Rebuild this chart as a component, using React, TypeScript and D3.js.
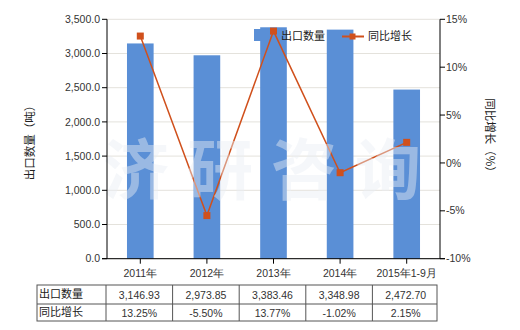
import React from "react";
import * as d3 from "d3";

const categories = ["2011年", "2012年", "2013年", "2014年", "2015年1-9月"];
const exportQty = [3146.93, 2973.85, 3383.46, 3348.98, 2472.7];
const growth = [13.25, -5.5, 13.77, -1.02, 2.15];
const qtyLabels = ["3,146.93", "2,973.85", "3,383.46", "3,348.98", "2,472.70"];
const growthLabels = ["13.25%", "-5.50%", "13.77%", "-1.02%", "2.15%"];
const leftTicks = [0, 500, 1000, 1500, 2000, 2500, 3000, 3500];
const rightTicks = [-10, -5, 0, 5, 10, 15];
const watermark = ["济", "研", "咨", "询"];

const W = 520, H = 330;
const L = 107, R = 440, T = 19.3, B = 258.7;
const BAR = "#5A8FD6";
const LINE = "#D0501C";
const NUM_FONT = "'Liberation Sans', Arial, sans-serif";
const CJK_FONT = "'Noto Sans CJK SC', sans-serif";

export default function App() {
  const x = d3.scaleBand<string>().domain(categories).range([L, R]).paddingInner(0.6).paddingOuter(0.3);
  const yL = d3.scaleLinear().domain([0, 3500]).range([B, T]);
  const yR = d3.scaleLinear().domain([-10, 15]).range([B, T]);
  const cx = (c: string) => (x(c) as number) + x.bandwidth() / 2;
  const line = d3.line<number>().x((_, i) => cx(categories[i])).y((d) => yR(d));
  const fmtL = d3.format(",.1f");
  const step = x.step();
  const colEdges = categories.map((c) => cx(c) - step / 2 - 1);
  const tableLeft = 37, tableRight = 437;
  const rowTop = 285, rowMid = 304, rowBot = 321;

  return (
    <svg width={W} height={H} style={{ position: "absolute", left: 0, top: 0, background: "#fff" }}>
      {/* gridlines */}
      {leftTicks.map((t) => (
        <line key={"g" + t} x1={L} x2={R} y1={yL(t)} y2={yL(t)} stroke="#E4E2DC" strokeWidth={1} />
      ))}
      {/* bars */}
      {categories.map((c, i) => (
        <rect key={"b" + c} x={x(c)} y={yL(exportQty[i])} width={x.bandwidth()} height={B - yL(exportQty[i])} fill={BAR} />
      ))}
      {/* line */}
      <path d={line(growth) || ""} fill="none" stroke={LINE} strokeWidth={1.5} />
      {growth.map((g, i) => (
        <rect key={"m" + i} x={cx(categories[i]) - 3.5} y={yR(g) - 3.5} width={7} height={7} fill={LINE} />
      ))}
      {/* watermark */}
      {watermark.map((ch, i) => (
        <text key={"w" + i} x={136 + i * 84} y={194} textAnchor="middle" fontSize={66} fontWeight="bold"
          fontFamily={CJK_FONT} fill="#E8EDF3" fillOpacity={0.45}>{ch}</text>
      ))}
      {/* axes */}
      <line x1={L} x2={L} y1={T} y2={B} stroke="#000" />
      <line x1={R} x2={R} y1={T} y2={B} stroke="#000" />
      <line x1={L - 5} x2={R + 5} y1={B} y2={B} stroke="#000" />
      {leftTicks.map((t) => (
        <g key={"lt" + t}>
          <line x1={L - 5} x2={L} y1={yL(t)} y2={yL(t)} stroke="#000" />
          <text x={L - 7} y={yL(t)} dy="0.35em" textAnchor="end" fontSize={10.5} fontFamily={NUM_FONT} fill="#333">{fmtL(t)}</text>
        </g>
      ))}
      {rightTicks.map((t) => (
        <g key={"rt" + t}>
          <line x1={R} x2={R + 5} y1={yR(t)} y2={yR(t)} stroke="#000" />
          <text x={R + 6} y={yR(t)} dy="0.35em" textAnchor="start" fontSize={10.5} fontFamily={NUM_FONT} fill="#333">{t + "%"}</text>
        </g>
      ))}
      {categories.map((c) => (
        <g key={"xt" + c}>
          <line x1={cx(c)} x2={cx(c)} y1={B} y2={B + 5} stroke="#000" />
          <text x={cx(c)} y={277} textAnchor="middle" fontSize={10.5} fontFamily={NUM_FONT} fill="#333">{c}</text>
        </g>
      ))}
      {/* axis titles */}
      <text transform={`translate(34,140) rotate(-90)`} textAnchor="middle" fontSize={11.5} fontFamily={CJK_FONT} fill="#222">出口数量（吨）</text>
      <text transform={`translate(486,138) rotate(90)`} textAnchor="middle" fontSize={11.5} fontFamily={CJK_FONT} fill="#222">同比增长（%）</text>
      {/* legend */}
      <rect x={254} y={29} width={13} height={12} fill={BAR} />
      <text x={281} y={36} dy="0.35em" fontSize={11} fontFamily={CJK_FONT} fill="#222">出口数量</text>
      <line x1={342} x2={364} y1={36.5} y2={36.5} stroke={LINE} strokeWidth={2} />
      <rect x={349.5} y={33.5} width={6} height={6} fill={LINE} />
      <text x={368} y={36} dy="0.35em" fontSize={11} fontFamily={CJK_FONT} fill="#222">同比增长</text>
      {/* table */}
      <rect x={tableLeft} y={rowTop} width={tableRight - tableLeft} height={rowBot - rowTop} fill="none" stroke="#555" />
      <line x1={tableLeft} x2={tableRight} y1={rowMid} y2={rowMid} stroke="#555" />
      {colEdges.map((e, i) => (
        <line key={"c" + i} x1={e} x2={e} y1={rowTop} y2={rowBot} stroke="#555" />
      ))}
      <text x={tableLeft + 2} y={(rowTop + rowMid) / 2} dy="0.35em" fontSize={11} fontFamily={CJK_FONT} fill="#222">出口数量</text>
      <text x={tableLeft + 2} y={(rowMid + rowBot) / 2} dy="0.35em" fontSize={11} fontFamily={CJK_FONT} fill="#222">同比增长</text>
      {categories.map((c, i) => (
        <g key={"tv" + c}>
          <text x={cx(c) - 1} y={(rowTop + rowMid) / 2 + 1} dy="0.35em" textAnchor="middle" fontSize={10.5} fontFamily={NUM_FONT} fill="#333">{qtyLabels[i]}</text>
          <text x={cx(c) - 1} y={(rowMid + rowBot) / 2 + 1} dy="0.35em" textAnchor="middle" fontSize={10.5} fontFamily={NUM_FONT} fill="#333">{growthLabels[i]}</text>
        </g>
      ))}
    </svg>
  );
}
